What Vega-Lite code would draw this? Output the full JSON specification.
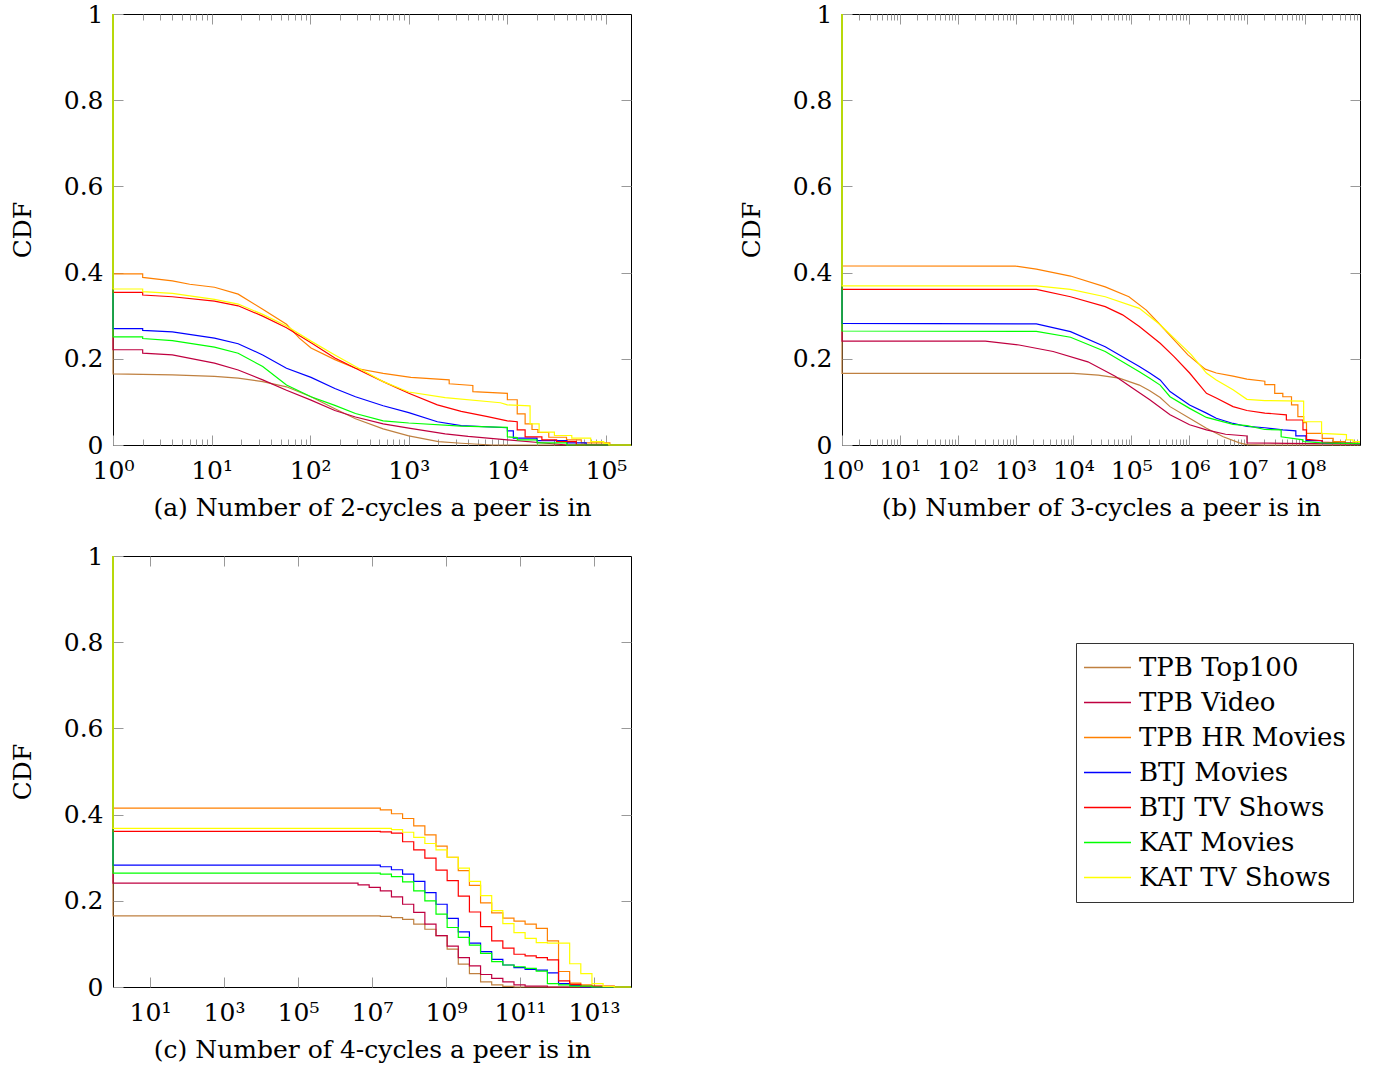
{
"$schema": "https://vega.github.io/schema/vega-lite/v6.json",
"padding": {"left": 9, "top": 1, "right": 5, "bottom": 5},
"config": {
  "font": "DejaVu Serif",
  "view": {"stroke": "#000", "strokeWidth": 1},
  "axis": {"labelFont": "DejaVu Serif", "titleFont": "DejaVu Serif", "labelFontSize": 25, "titleFontSize": 25, "labelColor": "#000", "titleColor": "#000", "titleFontWeight": "normal", "labelFontWeight": "normal", "grid": false, "domain": false, "tickColor": "#999", "tickWidth": 1, "labelFlush": false, "labelOverlap": false}
},
"datasets": {
"a": [
{"s":"TPB Top100","x":1,"y":1},{"s":"TPB Top100","x":1,"y":0.165},{"s":"TPB Top100","x":4,"y":0.1625},{"s":"TPB Top100","x":10.7,"y":0.159},{"s":"TPB Top100","x":18.6,"y":0.155},{"s":"TPB Top100","x":33,"y":0.147},{"s":"TPB Top100","x":57.5,"y":0.135},{"s":"TPB Top100","x":102,"y":0.112},{"s":"TPB Top100","x":178,"y":0.084},{"s":"TPB Top100","x":288,"y":0.061},{"s":"TPB Top100","x":550,"y":0.0375},{"s":"TPB Top100","x":1000,"y":0.021},{"s":"TPB Top100","x":2000,"y":0.008},{"s":"TPB Top100","x":3400,"y":0.004},{"s":"TPB Top100","x":7000,"y":0},{"s":"TPB Top100","x":179500,"y":0},
{"s":"TPB Video","x":1,"y":1},{"s":"TPB Video","x":1,"y":0.221},{"s":"TPB Video","x":2,"y":0.221},{"s":"TPB Video","x":2,"y":0.213},{"s":"TPB Video","x":4,"y":0.209},{"s":"TPB Video","x":10.7,"y":0.19},{"s":"TPB Video","x":18.6,"y":0.174},{"s":"TPB Video","x":33,"y":0.151},{"s":"TPB Video","x":57.5,"y":0.127},{"s":"TPB Video","x":102,"y":0.104},{"s":"TPB Video","x":178,"y":0.08},{"s":"TPB Video","x":288,"y":0.065},{"s":"TPB Video","x":550,"y":0.049},{"s":"TPB Video","x":1000,"y":0.039},{"s":"TPB Video","x":2340,"y":0.026},{"s":"TPB Video","x":4000,"y":0.02},{"s":"TPB Video","x":10000,"y":0.012},{"s":"TPB Video","x":25000,"y":0.004},{"s":"TPB Video","x":40000,"y":0},{"s":"TPB Video","x":179500,"y":0},
{"s":"TPB HR Movies","x":1,"y":1},{"s":"TPB HR Movies","x":1,"y":0.397},{"s":"TPB HR Movies","x":2,"y":0.397},{"s":"TPB HR Movies","x":2,"y":0.389},{"s":"TPB HR Movies","x":4,"y":0.381},{"s":"TPB HR Movies","x":6,"y":0.373},{"s":"TPB HR Movies","x":10.7,"y":0.366},{"s":"TPB HR Movies","x":18.6,"y":0.35},{"s":"TPB HR Movies","x":33,"y":0.315},{"s":"TPB HR Movies","x":57.5,"y":0.28},{"s":"TPB HR Movies","x":77.6,"y":0.248},{"s":"TPB HR Movies","x":102,"y":0.225},{"s":"TPB HR Movies","x":178,"y":0.198},{"s":"TPB HR Movies","x":288,"y":0.178},{"s":"TPB HR Movies","x":550,"y":0.166},{"s":"TPB HR Movies","x":1050,"y":0.157},{"s":"TPB HR Movies","x":2570,"y":0.151},{"s":"TPB HR Movies","x":2570,"y":0.142},{"s":"TPB HR Movies","x":4467,"y":0.138},{"s":"TPB HR Movies","x":4467,"y":0.124},{"s":"TPB HR Movies","x":10000,"y":0.12},{"s":"TPB HR Movies","x":10000,"y":0.105},{"s":"TPB HR Movies","x":12590,"y":0.105},{"s":"TPB HR Movies","x":12590,"y":0.072},{"s":"TPB HR Movies","x":15140,"y":0.072},{"s":"TPB HR Movies","x":15140,"y":0.049},{"s":"TPB HR Movies","x":17780,"y":0.049},{"s":"TPB HR Movies","x":17780,"y":0.036},{"s":"TPB HR Movies","x":20420,"y":0.036},{"s":"TPB HR Movies","x":20420,"y":0.029},{"s":"TPB HR Movies","x":26300,"y":0.029},{"s":"TPB HR Movies","x":26300,"y":0.018},{"s":"TPB HR Movies","x":39810,"y":0.018},{"s":"TPB HR Movies","x":39810,"y":0.012},{"s":"TPB HR Movies","x":56230,"y":0.012},{"s":"TPB HR Movies","x":56230,"y":0.005},{"s":"TPB HR Movies","x":109600,"y":0.005},{"s":"TPB HR Movies","x":109600,"y":0},{"s":"TPB HR Movies","x":179500,"y":0},
{"s":"BTJ Movies","x":1,"y":1},{"s":"BTJ Movies","x":1,"y":0.27},{"s":"BTJ Movies","x":2,"y":0.27},{"s":"BTJ Movies","x":2,"y":0.266},{"s":"BTJ Movies","x":4,"y":0.2625},{"s":"BTJ Movies","x":10.7,"y":0.248},{"s":"BTJ Movies","x":18.6,"y":0.235},{"s":"BTJ Movies","x":33,"y":0.209},{"s":"BTJ Movies","x":57.5,"y":0.178},{"s":"BTJ Movies","x":102,"y":0.157},{"s":"BTJ Movies","x":178,"y":0.131},{"s":"BTJ Movies","x":288,"y":0.112},{"s":"BTJ Movies","x":550,"y":0.091},{"s":"BTJ Movies","x":1000,"y":0.075},{"s":"BTJ Movies","x":1950,"y":0.054},{"s":"BTJ Movies","x":3400,"y":0.045},{"s":"BTJ Movies","x":10000,"y":0.04},{"s":"BTJ Movies","x":10000,"y":0.033},{"s":"BTJ Movies","x":11500,"y":0.033},{"s":"BTJ Movies","x":11500,"y":0.016},{"s":"BTJ Movies","x":20000,"y":0.016},{"s":"BTJ Movies","x":20000,"y":0.01},{"s":"BTJ Movies","x":40000,"y":0.01},{"s":"BTJ Movies","x":40000,"y":0.005},{"s":"BTJ Movies","x":63000,"y":0.005},{"s":"BTJ Movies","x":63000,"y":0},{"s":"BTJ Movies","x":179500,"y":0},
{"s":"BTJ TV Shows","x":1,"y":1},{"s":"BTJ TV Shows","x":1,"y":0.354},{"s":"BTJ TV Shows","x":2,"y":0.354},{"s":"BTJ TV Shows","x":2,"y":0.348},{"s":"BTJ TV Shows","x":4,"y":0.344},{"s":"BTJ TV Shows","x":10.7,"y":0.334},{"s":"BTJ TV Shows","x":18.6,"y":0.323},{"s":"BTJ TV Shows","x":33,"y":0.299},{"s":"BTJ TV Shows","x":57.5,"y":0.272},{"s":"BTJ TV Shows","x":102,"y":0.237},{"s":"BTJ TV Shows","x":178,"y":0.202},{"s":"BTJ TV Shows","x":288,"y":0.178},{"s":"BTJ TV Shows","x":550,"y":0.147},{"s":"BTJ TV Shows","x":1000,"y":0.12},{"s":"BTJ TV Shows","x":1950,"y":0.093},{"s":"BTJ TV Shows","x":3400,"y":0.078},{"s":"BTJ TV Shows","x":6300,"y":0.066},{"s":"BTJ TV Shows","x":10000,"y":0.056},{"s":"BTJ TV Shows","x":12590,"y":0.054},{"s":"BTJ TV Shows","x":12590,"y":0.035},{"s":"BTJ TV Shows","x":15140,"y":0.035},{"s":"BTJ TV Shows","x":15140,"y":0.019},{"s":"BTJ TV Shows","x":22400,"y":0.019},{"s":"BTJ TV Shows","x":22400,"y":0.012},{"s":"BTJ TV Shows","x":31600,"y":0.012},{"s":"BTJ TV Shows","x":31600,"y":0.008},{"s":"BTJ TV Shows","x":50000,"y":0.008},{"s":"BTJ TV Shows","x":50000,"y":0},{"s":"BTJ TV Shows","x":179500,"y":0},
{"s":"KAT Movies","x":1,"y":1},{"s":"KAT Movies","x":1,"y":0.251},{"s":"KAT Movies","x":2,"y":0.251},{"s":"KAT Movies","x":2,"y":0.247},{"s":"KAT Movies","x":4,"y":0.242},{"s":"KAT Movies","x":10.7,"y":0.227},{"s":"KAT Movies","x":18.6,"y":0.213},{"s":"KAT Movies","x":33,"y":0.182},{"s":"KAT Movies","x":57.5,"y":0.139},{"s":"KAT Movies","x":102,"y":0.112},{"s":"KAT Movies","x":178,"y":0.092},{"s":"KAT Movies","x":288,"y":0.073},{"s":"KAT Movies","x":550,"y":0.056},{"s":"KAT Movies","x":1000,"y":0.051},{"s":"KAT Movies","x":3400,"y":0.044},{"s":"KAT Movies","x":10000,"y":0.041},{"s":"KAT Movies","x":10000,"y":0.019},{"s":"KAT Movies","x":12600,"y":0.017},{"s":"KAT Movies","x":12600,"y":0.012},{"s":"KAT Movies","x":20000,"y":0.012},{"s":"KAT Movies","x":20000,"y":0.005},{"s":"KAT Movies","x":40000,"y":0.005},{"s":"KAT Movies","x":40000,"y":0},{"s":"KAT Movies","x":179500,"y":0},
{"s":"KAT TV Shows","x":1,"y":1},{"s":"KAT TV Shows","x":1,"y":0.362},{"s":"KAT TV Shows","x":2,"y":0.362},{"s":"KAT TV Shows","x":2,"y":0.356},{"s":"KAT TV Shows","x":4,"y":0.352},{"s":"KAT TV Shows","x":10.7,"y":0.338},{"s":"KAT TV Shows","x":18.6,"y":0.327},{"s":"KAT TV Shows","x":33,"y":0.303},{"s":"KAT TV Shows","x":57.5,"y":0.276},{"s":"KAT TV Shows","x":102,"y":0.241},{"s":"KAT TV Shows","x":178,"y":0.209},{"s":"KAT TV Shows","x":288,"y":0.182},{"s":"KAT TV Shows","x":550,"y":0.147},{"s":"KAT TV Shows","x":1000,"y":0.123},{"s":"KAT TV Shows","x":2340,"y":0.11},{"s":"KAT TV Shows","x":8500,"y":0.098},{"s":"KAT TV Shows","x":10000,"y":0.093},{"s":"KAT TV Shows","x":17000,"y":0.091},{"s":"KAT TV Shows","x":17000,"y":0.049},{"s":"KAT TV Shows","x":21000,"y":0.049},{"s":"KAT TV Shows","x":21000,"y":0.03},{"s":"KAT TV Shows","x":30000,"y":0.03},{"s":"KAT TV Shows","x":30000,"y":0.022},{"s":"KAT TV Shows","x":45000,"y":0.022},{"s":"KAT TV Shows","x":45000,"y":0.016},{"s":"KAT TV Shows","x":70000,"y":0.016},{"s":"KAT TV Shows","x":70000,"y":0.008},{"s":"KAT TV Shows","x":95000,"y":0.008},{"s":"KAT TV Shows","x":95000,"y":0.004},{"s":"KAT TV Shows","x":107000,"y":0.004},{"s":"KAT TV Shows","x":107000,"y":0},{"s":"KAT TV Shows","x":179500,"y":0}
],
"b": [
{"s":"TPB Top100","x":1,"y":1},{"s":"TPB Top100","x":1,"y":0.166},{"s":"TPB Top100","x":10000,"y":0.166},{"s":"TPB Top100","x":26900,"y":0.162},{"s":"TPB Top100","x":61700,"y":0.155},{"s":"TPB Top100","x":138000,"y":0.139},{"s":"TPB Top100","x":208900,"y":0.126},{"s":"TPB Top100","x":316200,"y":0.11},{"s":"TPB Top100","x":468000,"y":0.089},{"s":"TPB Top100","x":1020000,"y":0.062},{"s":"TPB Top100","x":1995000,"y":0.039},{"s":"TPB Top100","x":3890000,"y":0.019},{"s":"TPB Top100","x":7400000,"y":0.005},{"s":"TPB Top100","x":10000000,"y":0.001},{"s":"TPB Top100","x":20000000,"y":0},{"s":"TPB Top100","x":900000000,"y":0},
{"s":"TPB Video","x":1,"y":1},{"s":"TPB Video","x":1,"y":0.241},{"s":"TPB Video","x":300,"y":0.241},{"s":"TPB Video","x":1150,"y":0.232},{"s":"TPB Video","x":4467,"y":0.217},{"s":"TPB Video","x":17780,"y":0.193},{"s":"TPB Video","x":53700,"y":0.159},{"s":"TPB Video","x":104700,"y":0.132},{"s":"TPB Video","x":208900,"y":0.105},{"s":"TPB Video","x":468000,"y":0.07},{"s":"TPB Video","x":1020000,"y":0.047},{"s":"TPB Video","x":1995000,"y":0.035},{"s":"TPB Video","x":4270000,"y":0.025},{"s":"TPB Video","x":10000000,"y":0.021},{"s":"TPB Video","x":10000000,"y":0.005},{"s":"TPB Video","x":50000000,"y":0.004},{"s":"TPB Video","x":900000000,"y":0.002},
{"s":"TPB HR Movies","x":1,"y":1},{"s":"TPB HR Movies","x":1,"y":0.4155},{"s":"TPB HR Movies","x":1000,"y":0.415},{"s":"TPB HR Movies","x":2291,"y":0.408},{"s":"TPB HR Movies","x":8913,"y":0.392},{"s":"TPB HR Movies","x":35480,"y":0.367},{"s":"TPB HR Movies","x":91200,"y":0.344},{"s":"TPB HR Movies","x":182000,"y":0.313},{"s":"TPB HR Movies","x":316200,"y":0.279},{"s":"TPB HR Movies","x":549500,"y":0.244},{"s":"TPB HR Movies","x":955000,"y":0.209},{"s":"TPB HR Movies","x":1900000,"y":0.176},{"s":"TPB HR Movies","x":2950000,"y":0.167},{"s":"TPB HR Movies","x":5750000,"y":0.16},{"s":"TPB HR Movies","x":10000000,"y":0.153},{"s":"TPB HR Movies","x":20400000,"y":0.148},{"s":"TPB HR Movies","x":20400000,"y":0.14},{"s":"TPB HR Movies","x":30200000,"y":0.14},{"s":"TPB HR Movies","x":30200000,"y":0.12},{"s":"TPB HR Movies","x":41700000,"y":0.12},{"s":"TPB HR Movies","x":41700000,"y":0.112},{"s":"TPB HR Movies","x":58900000,"y":0.112},{"s":"TPB HR Movies","x":58900000,"y":0.093},{"s":"TPB HR Movies","x":75900000,"y":0.093},{"s":"TPB HR Movies","x":75900000,"y":0.066},{"s":"TPB HR Movies","x":95500000,"y":0.066},{"s":"TPB HR Movies","x":95500000,"y":0.052},{"s":"TPB HR Movies","x":107000000,"y":0.052},{"s":"TPB HR Movies","x":107000000,"y":0.027},{"s":"TPB HR Movies","x":200000000,"y":0.027},{"s":"TPB HR Movies","x":200000000,"y":0.0155},{"s":"TPB HR Movies","x":310000000,"y":0.0155},{"s":"TPB HR Movies","x":310000000,"y":0.008},{"s":"TPB HR Movies","x":500000000,"y":0.008},{"s":"TPB HR Movies","x":500000000,"y":0.005},{"s":"TPB HR Movies","x":900000000,"y":0.004},
{"s":"BTJ Movies","x":1,"y":1},{"s":"BTJ Movies","x":1,"y":0.282},{"s":"BTJ Movies","x":2291,"y":0.281},{"s":"BTJ Movies","x":8913,"y":0.263},{"s":"BTJ Movies","x":35480,"y":0.228},{"s":"BTJ Movies","x":138000,"y":0.182},{"s":"BTJ Movies","x":208900,"y":0.167},{"s":"BTJ Movies","x":316200,"y":0.151},{"s":"BTJ Movies","x":468000,"y":0.124},{"s":"BTJ Movies","x":1020000,"y":0.093},{"s":"BTJ Movies","x":1995000,"y":0.074},{"s":"BTJ Movies","x":2950000,"y":0.062},{"s":"BTJ Movies","x":5750000,"y":0.05},{"s":"BTJ Movies","x":10000000,"y":0.043},{"s":"BTJ Movies","x":20400000,"y":0.04},{"s":"BTJ Movies","x":41700000,"y":0.035},{"s":"BTJ Movies","x":70000000,"y":0.033},{"s":"BTJ Movies","x":70000000,"y":0.021},{"s":"BTJ Movies","x":107000000,"y":0.021},{"s":"BTJ Movies","x":107000000,"y":0.01},{"s":"BTJ Movies","x":200000000,"y":0.01},{"s":"BTJ Movies","x":200000000,"y":0.005},{"s":"BTJ Movies","x":900000000,"y":0.003},
{"s":"BTJ TV Shows","x":1,"y":1},{"s":"BTJ TV Shows","x":1,"y":0.361},{"s":"BTJ TV Shows","x":2291,"y":0.361},{"s":"BTJ TV Shows","x":8913,"y":0.344},{"s":"BTJ TV Shows","x":35480,"y":0.321},{"s":"BTJ TV Shows","x":70800,"y":0.302},{"s":"BTJ TV Shows","x":138000,"y":0.275},{"s":"BTJ TV Shows","x":316200,"y":0.236},{"s":"BTJ TV Shows","x":549500,"y":0.205},{"s":"BTJ TV Shows","x":1020000,"y":0.167},{"s":"BTJ TV Shows","x":1995000,"y":0.12},{"s":"BTJ TV Shows","x":2950000,"y":0.109},{"s":"BTJ TV Shows","x":5750000,"y":0.089},{"s":"BTJ TV Shows","x":10000000,"y":0.08},{"s":"BTJ TV Shows","x":20400000,"y":0.074},{"s":"BTJ TV Shows","x":48000000,"y":0.07},{"s":"BTJ TV Shows","x":48000000,"y":0.058},{"s":"BTJ TV Shows","x":93000000,"y":0.058},{"s":"BTJ TV Shows","x":93000000,"y":0.035},{"s":"BTJ TV Shows","x":107000000,"y":0.035},{"s":"BTJ TV Shows","x":107000000,"y":0.013},{"s":"BTJ TV Shows","x":200000000,"y":0.01},{"s":"BTJ TV Shows","x":200000000,"y":0.007},{"s":"BTJ TV Shows","x":400000000,"y":0.005},{"s":"BTJ TV Shows","x":900000000,"y":0.004},
{"s":"KAT Movies","x":1,"y":1},{"s":"KAT Movies","x":1,"y":0.2645},{"s":"KAT Movies","x":2291,"y":0.2635},{"s":"KAT Movies","x":8913,"y":0.25},{"s":"KAT Movies","x":35480,"y":0.217},{"s":"KAT Movies","x":138000,"y":0.17},{"s":"KAT Movies","x":208900,"y":0.155},{"s":"KAT Movies","x":316200,"y":0.139},{"s":"KAT Movies","x":468000,"y":0.112},{"s":"KAT Movies","x":1020000,"y":0.085},{"s":"KAT Movies","x":1995000,"y":0.064},{"s":"KAT Movies","x":5750000,"y":0.048},{"s":"KAT Movies","x":10000000,"y":0.045},{"s":"KAT Movies","x":20400000,"y":0.036},{"s":"KAT Movies","x":39000000,"y":0.035},{"s":"KAT Movies","x":39000000,"y":0.019},{"s":"KAT Movies","x":93000000,"y":0.012},{"s":"KAT Movies","x":93000000,"y":0.008},{"s":"KAT Movies","x":200000000,"y":0.005},{"s":"KAT Movies","x":900000000,"y":0.003},
{"s":"KAT TV Shows","x":1,"y":1},{"s":"KAT TV Shows","x":1,"y":0.369},{"s":"KAT TV Shows","x":2291,"y":0.369},{"s":"KAT TV Shows","x":8913,"y":0.361},{"s":"KAT TV Shows","x":35480,"y":0.344},{"s":"KAT TV Shows","x":138000,"y":0.317},{"s":"KAT TV Shows","x":316200,"y":0.279},{"s":"KAT TV Shows","x":549500,"y":0.248},{"s":"KAT TV Shows","x":1096000,"y":0.209},{"s":"KAT TV Shows","x":1995000,"y":0.167},{"s":"KAT TV Shows","x":2950000,"y":0.151},{"s":"KAT TV Shows","x":5750000,"y":0.128},{"s":"KAT TV Shows","x":10000000,"y":0.106},{"s":"KAT TV Shows","x":20400000,"y":0.103},{"s":"KAT TV Shows","x":95500000,"y":0.102},{"s":"KAT TV Shows","x":95500000,"y":0.054},{"s":"KAT TV Shows","x":195000000,"y":0.054},{"s":"KAT TV Shows","x":195000000,"y":0.027},{"s":"KAT TV Shows","x":525000000,"y":0.024},{"s":"KAT TV Shows","x":525000000,"y":0.012},{"s":"KAT TV Shows","x":680000000,"y":0.012},{"s":"KAT TV Shows","x":680000000,"y":0.008},{"s":"KAT TV Shows","x":900000000,"y":0.008}
],
"c": [
{"s":"TPB Top100","x":1,"y":1},{"s":"TPB Top100","x":1,"y":0.165},{"s":"TPB Top100","x":1.678e7,"y":0.164},{"s":"TPB Top100","x":3.355e7,"y":0.161},{"s":"TPB Top100","x":6.71e7,"y":0.157},{"s":"TPB Top100","x":1.342e8,"y":0.146},{"s":"TPB Top100","x":2.684e8,"y":0.134},{"s":"TPB Top100","x":5.369e8,"y":0.119},{"s":"TPB Top100","x":1.074e9,"y":0.088},{"s":"TPB Top100","x":2.147e9,"y":0.053},{"s":"TPB Top100","x":4.295e9,"y":0.031},{"s":"TPB Top100","x":8.59e9,"y":0.012},{"s":"TPB Top100","x":1.718e10,"y":0.005},{"s":"TPB Top100","x":3.436e10,"y":0.0015},{"s":"TPB Top100","x":6.872e10,"y":0},{"s":"TPB Top100","x":1e14,"y":0},
{"s":"TPB Video","x":1,"y":1},{"s":"TPB Video","x":1,"y":0.241},{"s":"TPB Video","x":4.194e6,"y":0.237},{"s":"TPB Video","x":8.389e6,"y":0.231},{"s":"TPB Video","x":1.678e7,"y":0.223},{"s":"TPB Video","x":3.355e7,"y":0.209},{"s":"TPB Video","x":6.71e7,"y":0.192},{"s":"TPB Video","x":1.342e8,"y":0.173},{"s":"TPB Video","x":2.684e8,"y":0.146},{"s":"TPB Video","x":5.369e8,"y":0.119},{"s":"TPB Video","x":1.074e9,"y":0.095},{"s":"TPB Video","x":2.147e9,"y":0.068},{"s":"TPB Video","x":4.295e9,"y":0.049},{"s":"TPB Video","x":8.59e9,"y":0.029},{"s":"TPB Video","x":1.718e10,"y":0.02},{"s":"TPB Video","x":3.436e10,"y":0.012},{"s":"TPB Video","x":6.872e10,"y":0.005},{"s":"TPB Video","x":1.374e11,"y":0.002},{"s":"TPB Video","x":5.498e11,"y":0},{"s":"TPB Video","x":1e14,"y":0},
{"s":"TPB HR Movies","x":1,"y":1},{"s":"TPB HR Movies","x":1,"y":0.415},{"s":"TPB HR Movies","x":1.678e7,"y":0.411},{"s":"TPB HR Movies","x":3.355e7,"y":0.402},{"s":"TPB HR Movies","x":6.71e7,"y":0.391},{"s":"TPB HR Movies","x":1.342e8,"y":0.374},{"s":"TPB HR Movies","x":2.684e8,"y":0.353},{"s":"TPB HR Movies","x":5.369e8,"y":0.327},{"s":"TPB HR Movies","x":1.074e9,"y":0.301},{"s":"TPB HR Movies","x":2.147e9,"y":0.27},{"s":"TPB HR Movies","x":4.295e9,"y":0.236},{"s":"TPB HR Movies","x":8.59e9,"y":0.195},{"s":"TPB HR Movies","x":1.718e10,"y":0.172},{"s":"TPB HR Movies","x":3.436e10,"y":0.16},{"s":"TPB HR Movies","x":6.872e10,"y":0.153},{"s":"TPB HR Movies","x":1.374e11,"y":0.146},{"s":"TPB HR Movies","x":2.749e11,"y":0.136},{"s":"TPB HR Movies","x":5.498e11,"y":0.107},{"s":"TPB HR Movies","x":1.1e12,"y":0.036},{"s":"TPB HR Movies","x":2.199e12,"y":0.009},{"s":"TPB HR Movies","x":4.398e12,"y":0.005},{"s":"TPB HR Movies","x":8.796e12,"y":0.0015},{"s":"TPB HR Movies","x":1.759e13,"y":0},{"s":"TPB HR Movies","x":1e14,"y":0},
{"s":"BTJ Movies","x":1,"y":1},{"s":"BTJ Movies","x":1,"y":0.283},{"s":"BTJ Movies","x":1.678e7,"y":0.279},{"s":"BTJ Movies","x":3.355e7,"y":0.272},{"s":"BTJ Movies","x":6.71e7,"y":0.262},{"s":"BTJ Movies","x":1.342e8,"y":0.245},{"s":"BTJ Movies","x":2.684e8,"y":0.219},{"s":"BTJ Movies","x":5.369e8,"y":0.192},{"s":"BTJ Movies","x":1.074e9,"y":0.159},{"s":"BTJ Movies","x":2.147e9,"y":0.128},{"s":"BTJ Movies","x":4.295e9,"y":0.102},{"s":"BTJ Movies","x":8.59e9,"y":0.082},{"s":"BTJ Movies","x":1.718e10,"y":0.064},{"s":"BTJ Movies","x":3.436e10,"y":0.051},{"s":"BTJ Movies","x":6.872e10,"y":0.045},{"s":"BTJ Movies","x":1.374e11,"y":0.041},{"s":"BTJ Movies","x":2.749e11,"y":0.039},{"s":"BTJ Movies","x":5.498e11,"y":0.033},{"s":"BTJ Movies","x":1.1e12,"y":0.008},{"s":"BTJ Movies","x":2.199e12,"y":0.004},{"s":"BTJ Movies","x":4.398e12,"y":0},{"s":"BTJ Movies","x":1e14,"y":0},
{"s":"BTJ TV Shows","x":1,"y":1},{"s":"BTJ TV Shows","x":1,"y":0.361},{"s":"BTJ TV Shows","x":1.678e7,"y":0.36},{"s":"BTJ TV Shows","x":3.355e7,"y":0.357},{"s":"BTJ TV Shows","x":6.71e7,"y":0.337},{"s":"BTJ TV Shows","x":1.342e8,"y":0.318},{"s":"BTJ TV Shows","x":2.684e8,"y":0.299},{"s":"BTJ TV Shows","x":5.369e8,"y":0.271},{"s":"BTJ TV Shows","x":1.074e9,"y":0.247},{"s":"BTJ TV Shows","x":2.147e9,"y":0.211},{"s":"BTJ TV Shows","x":4.295e9,"y":0.174},{"s":"BTJ TV Shows","x":8.59e9,"y":0.14},{"s":"BTJ TV Shows","x":1.718e10,"y":0.107},{"s":"BTJ TV Shows","x":3.436e10,"y":0.09},{"s":"BTJ TV Shows","x":6.872e10,"y":0.076},{"s":"BTJ TV Shows","x":1.374e11,"y":0.072},{"s":"BTJ TV Shows","x":2.749e11,"y":0.068},{"s":"BTJ TV Shows","x":5.498e11,"y":0.063},{"s":"BTJ TV Shows","x":1.1e12,"y":0.014},{"s":"BTJ TV Shows","x":2.199e12,"y":0.006},{"s":"BTJ TV Shows","x":4.398e12,"y":0.002},{"s":"BTJ TV Shows","x":3.518e13,"y":0},{"s":"BTJ TV Shows","x":1e14,"y":0},
{"s":"KAT Movies","x":1,"y":1},{"s":"KAT Movies","x":1,"y":0.264},{"s":"KAT Movies","x":1.678e7,"y":0.262},{"s":"KAT Movies","x":3.355e7,"y":0.256},{"s":"KAT Movies","x":6.71e7,"y":0.244},{"s":"KAT Movies","x":1.342e8,"y":0.223},{"s":"KAT Movies","x":2.684e8,"y":0.2},{"s":"KAT Movies","x":5.369e8,"y":0.169},{"s":"KAT Movies","x":1.074e9,"y":0.138},{"s":"KAT Movies","x":2.147e9,"y":0.115},{"s":"KAT Movies","x":4.295e9,"y":0.097},{"s":"KAT Movies","x":8.59e9,"y":0.078},{"s":"KAT Movies","x":1.718e10,"y":0.059},{"s":"KAT Movies","x":3.436e10,"y":0.051},{"s":"KAT Movies","x":6.872e10,"y":0.047},{"s":"KAT Movies","x":1.374e11,"y":0.043},{"s":"KAT Movies","x":2.749e11,"y":0.037},{"s":"KAT Movies","x":5.498e11,"y":0.008},{"s":"KAT Movies","x":1.1e12,"y":0.005},{"s":"KAT Movies","x":2.199e12,"y":0.002},{"s":"KAT Movies","x":8.796e12,"y":0},{"s":"KAT Movies","x":1e14,"y":0},
{"s":"KAT TV Shows","x":1,"y":1},{"s":"KAT TV Shows","x":1,"y":0.368},{"s":"KAT TV Shows","x":3.355e7,"y":0.365},{"s":"KAT TV Shows","x":6.71e7,"y":0.359},{"s":"KAT TV Shows","x":1.342e8,"y":0.347},{"s":"KAT TV Shows","x":2.684e8,"y":0.333},{"s":"KAT TV Shows","x":5.369e8,"y":0.318},{"s":"KAT TV Shows","x":1.074e9,"y":0.301},{"s":"KAT TV Shows","x":2.147e9,"y":0.276},{"s":"KAT TV Shows","x":4.295e9,"y":0.245},{"s":"KAT TV Shows","x":8.59e9,"y":0.212},{"s":"KAT TV Shows","x":1.718e10,"y":0.177},{"s":"KAT TV Shows","x":3.436e10,"y":0.147},{"s":"KAT TV Shows","x":6.872e10,"y":0.126},{"s":"KAT TV Shows","x":1.374e11,"y":0.113},{"s":"KAT TV Shows","x":2.749e11,"y":0.103},{"s":"KAT TV Shows","x":5.498e11,"y":0.102},{"s":"KAT TV Shows","x":2.199e12,"y":0.054},{"s":"KAT TV Shows","x":4.398e12,"y":0.031},{"s":"KAT TV Shows","x":8.796e12,"y":0.008},{"s":"KAT TV Shows","x":1.759e13,"y":0.0015},{"s":"KAT TV Shows","x":3.518e13,"y":0},{"s":"KAT TV Shows","x":1e14,"y":0}
]
},
"columns": 2,
"bounds": "flush",
"spacing": {"row": 111, "column": 211},
"concat": [
{
 "width": 518, "height": 431,
 "data": {"name": "a"},
 "layer": [
  {"mark": {"type": "line", "strokeWidth": 1.2},
   "encoding": {
    "x": {"field": "x", "type": "quantitative", "scale": {"type": "log", "domain": [1, 179500], "nice": false},
      "axis": {"orient": "bottom", "values": [1,10,100,1000,10000,100000], "tickSize": -10, "labelPadding": 23, "labelBaseline": "top",
        "labelExpr": "'10' + (round(log(datum.value)/LN10) >= 10 ? '¹' + substring('⁰¹²³⁴⁵⁶⁷⁸⁹', round(log(datum.value)/LN10) - 10, round(log(datum.value)/LN10) - 9) : substring('⁰¹²³⁴⁵⁶⁷⁸⁹', round(log(datum.value)/LN10), round(log(datum.value)/LN10) + 1))",
        "title": "(a) Number of 2-cycles a peer is in", "titlePadding": 12}},
    "y": {"field": "y", "type": "quantitative", "scale": {"domain": [0, 1], "nice": false},
      "axis": {"orient": "left", "values": [0,0.2,0.4,0.6,0.8,1], "tickSize": -10, "labelPadding": 20,
        "labelExpr": "datum.value == 0 ? '0' : datum.value == 1 ? '1' : format(datum.value, '.1f')",
        "title": "CDF", "titlePadding": 28}},
    "color": {"field": "s", "type": "nominal",
      "scale": {"domain": ["TPB Top100","TPB Video","TPB HR Movies","BTJ Movies","BTJ TV Shows","KAT Movies","KAT TV Shows"],
                "range": ["#bf8040","#bf0040","#ff8000","#0000ff","#ff0000","#00ff00","#ffff00"]},
      "legend": {"orient": "none", "legendX": 963, "legendY": 629, "title": null, "symbolType": "stroke", "symbolStrokeWidth": 1.5, "symbolSize": 2209, "clipHeight": 35, "labelFontSize": 26, "labelFont": "DejaVu Serif", "labelColor": "#000", "labelLimit": 500, "strokeColor": "#333", "fillColor": "#fff", "padding": 7, "rowPadding": 0, "labelOffset": 7}},
    "order": {"value": null}
   }},
  {"mark": {"type": "point", "opacity": 0, "size": 1},
   "encoding": {
    "x": {"field": "x", "type": "quantitative", "scale": {"type": "log", "domain": [1, 179500], "nice": false},
      "axis": {"orient": "top", "values": [1,10,100,1000,10000,100000], "tickSize": -10, "labels": false, "title": null}},
    "y": {"field": "y", "type": "quantitative", "scale": {"domain": [0, 1], "nice": false},
      "axis": {"orient": "right", "values": [0.2,0.4,0.6,0.8], "tickSize": -10, "labels": false, "title": null}}
   }},
  {"mark": {"type": "point", "opacity": 0, "size": 1},
   "encoding": {
    "x": {"field": "x", "type": "quantitative", "scale": {"type": "log", "domain": [1, 179500], "nice": false},
      "axis": {"orient": "bottom", "values": [2,3,4,5,6,7,8,9,20,30,40,50,60,70,80,90,200,300,400,500,600,700,800,900,2000,3000,4000,5000,6000,7000,8000,9000,20000,30000,40000,50000,60000,70000,80000,90000], "tickSize": -6, "labels": false, "title": null}},
    "y": {"field": "y", "type": "quantitative", "scale": {"domain": [0, 1], "nice": false}, "axis": null}
   }},
  {"mark": {"type": "point", "opacity": 0, "size": 1},
   "encoding": {
    "x": {"field": "x", "type": "quantitative", "scale": {"type": "log", "domain": [1, 179500], "nice": false},
      "axis": {"orient": "top", "values": [2,3,4,5,6,7,8,9,20,30,40,50,60,70,80,90,200,300,400,500,600,700,800,900,2000,3000,4000,5000,6000,7000,8000,9000,20000,30000,40000,50000,60000,70000,80000,90000], "tickSize": -6, "labels": false, "title": null}},
    "y": {"field": "y", "type": "quantitative", "scale": {"domain": [0, 1], "nice": false}, "axis": null}
   }}
 ],
 "resolve": {"axis": {"x": "independent", "y": "independent"}}
},
{
 "width": 518, "height": 431,
 "data": {"name": "b"},
 "layer": [
  {"mark": {"type": "line", "strokeWidth": 1.2},
   "encoding": {
    "x": {"field": "x", "type": "quantitative", "scale": {"type": "log", "domain": [1, 900000000], "nice": false},
      "axis": {"orient": "bottom", "values": [1,10,100,1000,10000,100000,1000000,10000000,100000000], "tickSize": -10, "labelPadding": 23, "labelBaseline": "top",
        "labelExpr": "'10' + (round(log(datum.value)/LN10) >= 10 ? '¹' + substring('⁰¹²³⁴⁵⁶⁷⁸⁹', round(log(datum.value)/LN10) - 10, round(log(datum.value)/LN10) - 9) : substring('⁰¹²³⁴⁵⁶⁷⁸⁹', round(log(datum.value)/LN10), round(log(datum.value)/LN10) + 1))",
        "title": "(b) Number of 3-cycles a peer is in", "titlePadding": 12}},
    "y": {"field": "y", "type": "quantitative", "scale": {"domain": [0, 1], "nice": false},
      "axis": {"orient": "left", "values": [0,0.2,0.4,0.6,0.8,1], "tickSize": -10, "labelPadding": 20,
        "labelExpr": "datum.value == 0 ? '0' : datum.value == 1 ? '1' : format(datum.value, '.1f')",
        "title": "CDF", "titlePadding": 28}},
    "color": {"field": "s", "type": "nominal",
      "scale": {"domain": ["TPB Top100","TPB Video","TPB HR Movies","BTJ Movies","BTJ TV Shows","KAT Movies","KAT TV Shows"],
                "range": ["#bf8040","#bf0040","#ff8000","#0000ff","#ff0000","#00ff00","#ffff00"]},
      "legend": {"orient": "none", "legendX": 963, "legendY": 629, "title": null, "symbolType": "stroke", "symbolStrokeWidth": 1.5, "symbolSize": 2209, "clipHeight": 35, "labelFontSize": 26, "labelFont": "DejaVu Serif", "labelColor": "#000", "labelLimit": 500, "strokeColor": "#333", "fillColor": "#fff", "padding": 7, "rowPadding": 0, "labelOffset": 7}},
    "order": {"value": null}
   }},
  {"mark": {"type": "point", "opacity": 0, "size": 1},
   "encoding": {
    "x": {"field": "x", "type": "quantitative", "scale": {"type": "log", "domain": [1, 900000000], "nice": false},
      "axis": {"orient": "top", "values": [1,10,100,1000,10000,100000,1000000,10000000,100000000], "tickSize": -10, "labels": false, "title": null}},
    "y": {"field": "y", "type": "quantitative", "scale": {"domain": [0, 1], "nice": false},
      "axis": {"orient": "right", "values": [0.2,0.4,0.6,0.8], "tickSize": -10, "labels": false, "title": null}}
   }},
  {"mark": {"type": "point", "opacity": 0, "size": 1},
   "encoding": {
    "x": {"field": "x", "type": "quantitative", "scale": {"type": "log", "domain": [1, 900000000], "nice": false},
      "axis": {"orient": "bottom", "values": [2,3,4,5,6,7,8,9,20,30,40,50,60,70,80,90,200,300,400,500,600,700,800,900,2000,3000,4000,5000,6000,7000,8000,9000,20000,30000,40000,50000,60000,70000,80000,90000,200000,300000,400000,500000,600000,700000,800000,900000,2000000,3000000,4000000,5000000,6000000,7000000,8000000,9000000,20000000,30000000,40000000,50000000,60000000,70000000,80000000,90000000,200000000,300000000,400000000,500000000,600000000,700000000,800000000], "tickSize": -6, "labels": false, "title": null}},
    "y": {"field": "y", "type": "quantitative", "scale": {"domain": [0, 1], "nice": false}, "axis": null}
   }},
  {"mark": {"type": "point", "opacity": 0, "size": 1},
   "encoding": {
    "x": {"field": "x", "type": "quantitative", "scale": {"type": "log", "domain": [1, 900000000], "nice": false},
      "axis": {"orient": "top", "values": [2,3,4,5,6,7,8,9,20,30,40,50,60,70,80,90,200,300,400,500,600,700,800,900,2000,3000,4000,5000,6000,7000,8000,9000,20000,30000,40000,50000,60000,70000,80000,90000,200000,300000,400000,500000,600000,700000,800000,900000,2000000,3000000,4000000,5000000,6000000,7000000,8000000,9000000,20000000,30000000,40000000,50000000,60000000,70000000,80000000,90000000,200000000,300000000,400000000,500000000,600000000,700000000,800000000], "tickSize": -6, "labels": false, "title": null}},
    "y": {"field": "y", "type": "quantitative", "scale": {"domain": [0, 1], "nice": false}, "axis": null}
   }}
 ],
 "resolve": {"axis": {"x": "independent", "y": "independent"}}
},
{
 "width": 518, "height": 431,
 "data": {"name": "c"},
 "layer": [
  {"mark": {"type": "line", "strokeWidth": 1.2, "interpolate": "step-after"},
   "encoding": {
    "x": {"field": "x", "type": "quantitative", "scale": {"type": "log", "domain": [1, 1e14], "nice": false},
      "axis": {"orient": "bottom", "values": [10,1000,100000,10000000,1000000000,100000000000,10000000000000], "tickSize": -10, "labelPadding": 23, "labelBaseline": "top",
        "labelExpr": "'10' + (round(log(datum.value)/LN10) >= 10 ? '¹' + substring('⁰¹²³⁴⁵⁶⁷⁸⁹', round(log(datum.value)/LN10) - 10, round(log(datum.value)/LN10) - 9) : substring('⁰¹²³⁴⁵⁶⁷⁸⁹', round(log(datum.value)/LN10), round(log(datum.value)/LN10) + 1))",
        "title": "(c) Number of 4-cycles a peer is in", "titlePadding": 12}},
    "y": {"field": "y", "type": "quantitative", "scale": {"domain": [0, 1], "nice": false},
      "axis": {"orient": "left", "values": [0,0.2,0.4,0.6,0.8,1], "tickSize": -10, "labelPadding": 20,
        "labelExpr": "datum.value == 0 ? '0' : datum.value == 1 ? '1' : format(datum.value, '.1f')",
        "title": "CDF", "titlePadding": 28}},
    "color": {"field": "s", "type": "nominal",
      "scale": {"domain": ["TPB Top100","TPB Video","TPB HR Movies","BTJ Movies","BTJ TV Shows","KAT Movies","KAT TV Shows"],
                "range": ["#bf8040","#bf0040","#ff8000","#0000ff","#ff0000","#00ff00","#ffff00"]},
      "legend": {"orient": "none", "legendX": 963, "legendY": 629, "title": null, "symbolType": "stroke", "symbolStrokeWidth": 1.5, "symbolSize": 2209, "clipHeight": 35, "labelFontSize": 26, "labelFont": "DejaVu Serif", "labelColor": "#000", "labelLimit": 500, "strokeColor": "#333", "fillColor": "#fff", "padding": 7, "rowPadding": 0, "labelOffset": 7}},
    "order": {"value": null}
   }},
  {"mark": {"type": "point", "opacity": 0, "size": 1},
   "encoding": {
    "x": {"field": "x", "type": "quantitative", "scale": {"type": "log", "domain": [1, 1e14], "nice": false},
      "axis": {"orient": "top", "values": [10,1000,100000,10000000,1000000000,100000000000,10000000000000], "tickSize": -10, "labels": false, "title": null}},
    "y": {"field": "y", "type": "quantitative", "scale": {"domain": [0, 1], "nice": false},
      "axis": {"orient": "right", "values": [0.2,0.4,0.6,0.8], "tickSize": -10, "labels": false, "title": null}}
   }}
 ],
 "resolve": {"axis": {"x": "independent", "y": "independent"}}
}
]
}
